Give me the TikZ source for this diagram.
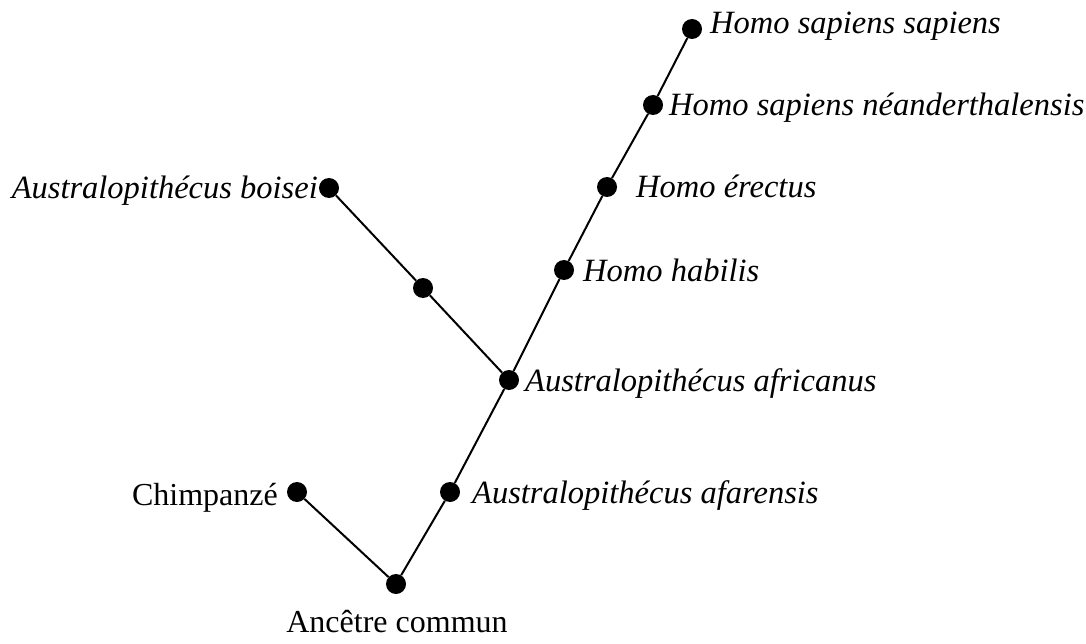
\documentclass[tikz,border=0pt]{standalone}
\usepackage{fontspec}
\setmainfont{Liberation Serif}
\begin{document}
\begin{tikzpicture}[x=1pt,y=-1pt,
  dot/.style={circle,fill=black,inner sep=0pt,minimum size=20pt},
  lbl/.style={inner sep=0pt,font=\fontsize{32.5}{38}\selectfont\itshape},
  lblr/.style={inner sep=0pt,font=\fontsize{32}{38}\selectfont},
  edge/.style={line width=2pt}]
\useasboundingbox (0,0) rectangle (1086,644);
\node[dot] (anc) at (396,584) {};
\node[dot] (chi) at (297,492) {};
\node[dot] (afa) at (450,492) {};
\node[dot] (afr) at (509,380) {};
\node[dot] (unk) at (423,288) {};
\node[dot] (boi) at (329,188) {};
\node[dot] (hab) at (564,270) {};
\node[dot] (ere) at (607,187) {};
\node[dot] (nea) at (653,105) {};
\node[dot] (sap) at (692,29) {};
\draw[edge] (chi) -- (anc) -- (afa) -- (afr) -- (hab) -- (ere) -- (nea) -- (sap);
\draw[edge] (afr) -- (unk) -- (boi);
\node[lblr,anchor=base] (tanc) at (397,632) {Ancêtre commun};
\node[lblr,anchor=base east] (tchi) at (278,505) {Chimpanzé};
\node[lbl,anchor=base west] (tafa) at (472,503) {Australopithécus afarensis};
\node[lbl,anchor=base west] (tafr) at (525,391) {Australopithécus africanus};
\node[lbl,anchor=base east] (tboi) at (318,199) {Australopithécus boisei};
\node[lbl,anchor=base west] (thab) at (583,281) {Homo habilis};
\node[lbl,anchor=base west] (tere) at (636,198) {Homo érectus};
\node[lbl,anchor=base west] (tnea) at (669,116) {Homo sapiens néanderthalensis};
\node[lbl,anchor=base west] (tsap) at (710,34) {Homo sapiens sapiens};
\end{tikzpicture}
\end{document}
